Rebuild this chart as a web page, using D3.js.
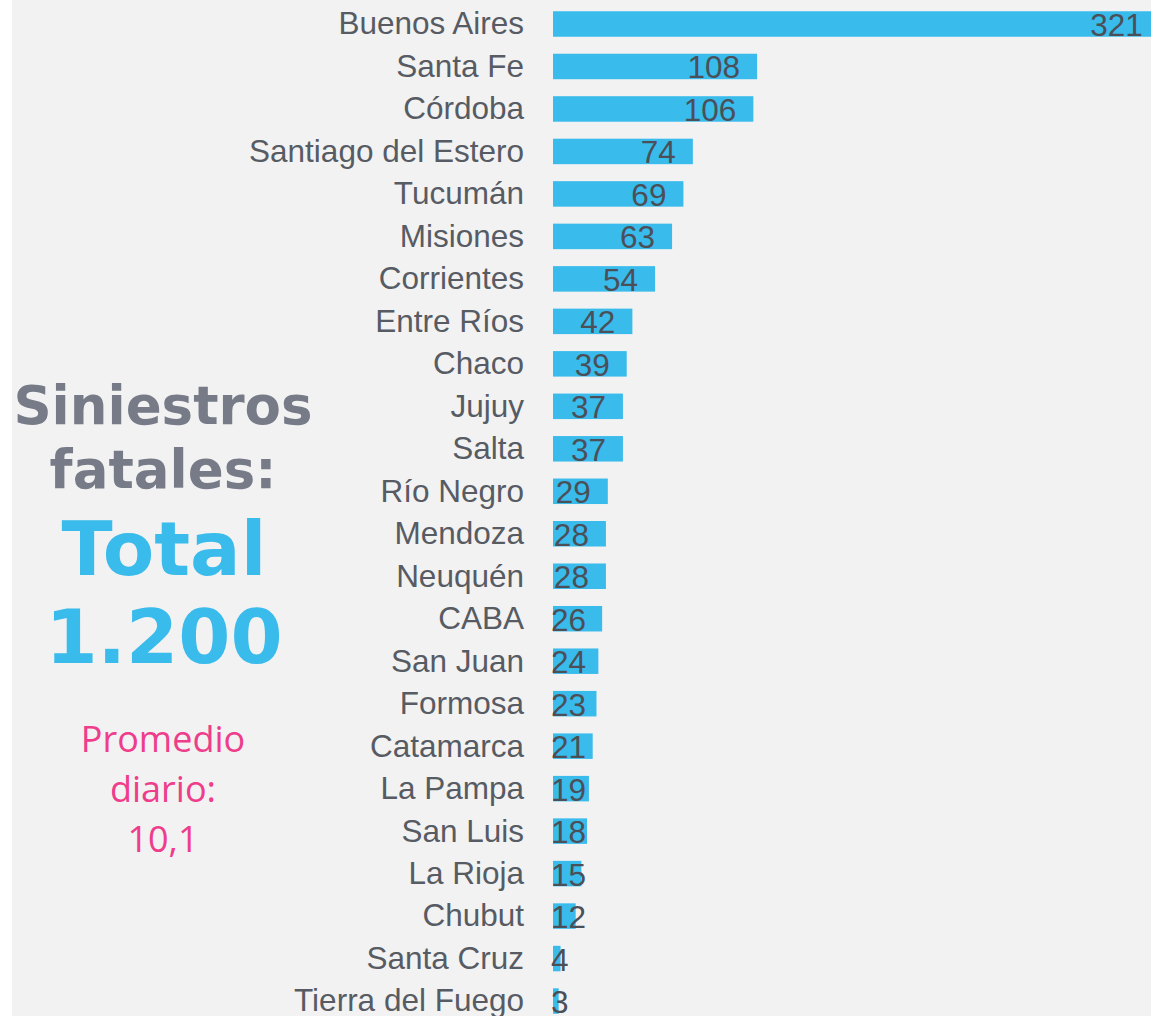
<!DOCTYPE html>
<html>
<head>
<meta charset="utf-8">
<script src="https://cdn.jsdelivr.net/npm/d3@7"></script>
<style>
  html, body { margin: 0; padding: 0; background: #fff; }
  svg { display: block; }
</style>
</head>
<body>
<svg id="chart" width="1151" height="1016"></svg>
<script>
const provinces = ["Buenos Aires", "Santa Fe", "Córdoba", "Santiago del Estero", "Tucumán",
  "Misiones", "Corrientes", "Entre Ríos", "Chaco", "Jujuy", "Salta", "Río Negro", "Mendoza",
  "Neuquén", "CABA", "San Juan", "Formosa", "Catamarca", "La Pampa", "San Luis", "La Rioja",
  "Chubut", "Santa Cruz", "Tierra del Fuego"];
const deaths = [321, 108, 106, 74, 69, 63, 54, 42, 39, 37, 37, 29, 28, 28, 26, 24, 23, 21, 19, 18, 15, 12, 4, 3];
const titleLines = ["Siniestros", "fatales:"];
const totalLines = ["Total", "1.200"];
const avgLines = ["Promedio", "diario:", "10,1"];

const W = 1151, H = 1016;
const svg = d3.select("#chart");

svg.append("rect")
  .attr("x", 12).attr("y", 0)
  .attr("width", W - 12).attr("height", H)
  .attr("fill", "#f2f2f2");

const x = d3.scaleLinear().domain([0, 100]).range([553, 553 + 189]);
const step = 42.48;
const y = d3.scaleBand()
  .domain(provinces)
  .range([24 - step / 2, 24 - step / 2 + provinces.length * step])
  .paddingInner(0.4)
  .paddingOuter(0.2);

const rows = provinces.map((p, i) => ({ name: p, value: deaths[i] }));

svg.append("g").selectAll("rect")
  .data(rows)
  .join("rect")
  .attr("x", x(0))
  .attr("y", d => y(d.name))
  .attr("width", d => x(d.value) - x(0))
  .attr("height", y.bandwidth())
  .attr("fill", "#39bbec");

svg.append("g").selectAll("text")
  .data(rows)
  .join("text")
  .attr("x", 524)
  .attr("y", d => y(d.name) + y.bandwidth() / 2)
  .attr("dy", "0.33em")
  .attr("text-anchor", "end")
  .attr("font-family", "'Liberation Sans', Arial, sans-serif")
  .attr("font-size", 31.5)
  .attr("fill", "#575b63")
  .text(d => d.name);

// value labels: inside end, pushed right when the bar is too short
const vals = svg.append("g").selectAll("text")
  .data(rows)
  .join("text")
  .attr("y", d => y(d.name) + y.bandwidth() / 2)
  .attr("dy", "0.38em")
  .attr("text-anchor", "end")
  .attr("font-family", "'Liberation Sans', Arial, sans-serif")
  .attr("font-size", 31.5)
  .attr("fill", "#4b4f58")
  .text(d => d.value);

vals.attr("x", function(d) {
  const w = this.getComputedTextLength();
  return Math.max(x(d.value) - 17, 551 + w);
});

const bold = "'DejaVu Sans', Verdana, sans-serif";
svg.append("g").selectAll("text")
  .data(titleLines)
  .join("text")
  .attr("x", 163)
  .attr("y", (d, i) => 424 + i * 64)
  .attr("text-anchor", "middle")
  .attr("font-family", bold)
  .attr("font-weight", "bold")
  .attr("font-size", 53)
  .attr("fill", "#767b87")
  .text(d => d);

svg.append("g").selectAll("text")
  .data(totalLines)
  .join("text")
  .attr("x", 164)
  .attr("y", (d, i) => 575 + i * 88)
  .attr("text-anchor", "middle")
  .attr("font-family", bold)
  .attr("font-weight", "bold")
  .attr("font-size", 75)
  .attr("fill", "#39bbec")
  .text(d => d);

svg.append("g").selectAll("text")
  .data(avgLines)
  .join("text")
  .attr("x", 163)
  .attr("y", (d, i) => 752 + i * 50)
  .attr("text-anchor", "middle")
  .attr("font-family", "'Open Sans', 'Noto Sans', sans-serif")
  .attr("font-size", 36)
  .attr("fill", "#ee3d8b")
  .text(d => d);
</script>
</body>
</html>
